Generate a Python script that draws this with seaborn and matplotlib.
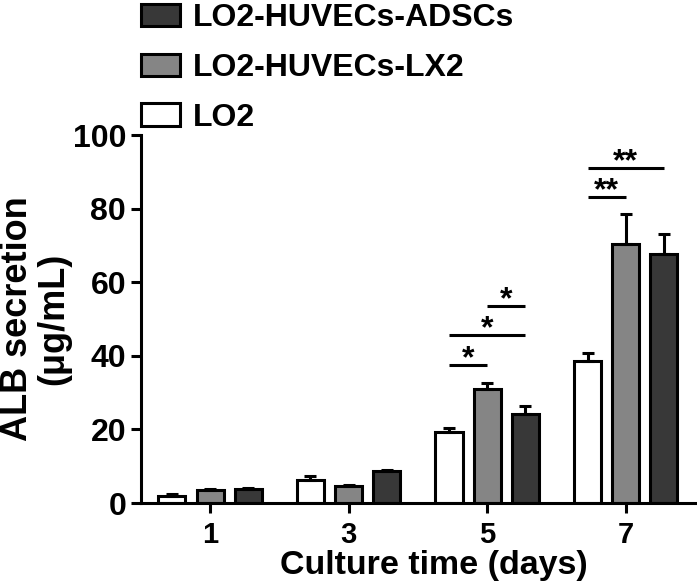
import pandas as pd
import matplotlib.pyplot as plt
import matplotlib.patches as mpatches
import seaborn as sns

# Données
jours = ['1', '3', '5', '7']
groupes = ['LO2', 'LO2-HUVECs-LX2', 'LO2-HUVECs-ADSCs']
lo2 = [2.0, 6.4, 19.4, 38.7]
lo2_err = [0.5, 1.0, 0.9, 2.0]
lx2 = [3.5, 4.7, 31.0, 70.4]
lx2_err = [0.2, 0.2, 1.6, 8.1]
adsc = [3.9, 8.7, 24.2, 67.8]
adsc_err = [0.3, 0.3, 2.3, 5.4]

# comparaisons significatives : (jour, groupe a, groupe b, hauteur, étoiles)
sig_jour = [2, 2, 2, 3, 3]
sig_a = [0, 0, 1, 0, 0]
sig_b = [1, 2, 2, 1, 2]
sig_y = [37.5, 45.6, 53.6, 83.2, 91.1]
sig_txt = ['*', '*', '*', '**', '**']

couleurs = ['white', '#858585', '#383838']

df = pd.DataFrame({
    'jour': jours * 3,
    'groupe': [g for g in groupes for _ in jours],
    'alb': lo2 + lx2 + adsc,
})
erreurs = [lo2_err, lx2_err, adsc_err]

sns.set_style('ticks')
plt.rcParams['font.family'] = ['Liberation Sans', 'DejaVu Sans']
plt.rcParams['font.weight'] = 'bold'
for k in ['text.color', 'axes.labelcolor', 'xtick.color', 'ytick.color', 'axes.edgecolor']:
    plt.rcParams[k] = 'black'

fig = plt.figure(figsize=(6.97, 5.87), dpi=100)
ax = fig.add_axes([0.202, 0.143, 0.795, 0.627])

sns.barplot(data=df, x='jour', y='alb', hue='groupe', order=jours, hue_order=groupes,
            palette=couleurs, edgecolor='black', linewidth=2.2, width=0.825, gap=0.29,
            legend=False, ax=ax)

# barres d'erreur (vers le haut seulement)
centres = []
for cont, err in zip(ax.containers, erreurs):
    xs = []
    for bar, e in zip(cont, err):
        x = bar.get_x() + bar.get_width() / 2
        xs.append(x)
        ax.errorbar(x, bar.get_height(), yerr=[[0], [e]], fmt='none', ecolor='black',
                    elinewidth=2.2, capsize=4.5, capthick=2.2, zorder=1)
    centres.append(xs)

# traits de significativité
for j, a, b, y, t in zip(sig_jour, sig_a, sig_b, sig_y, sig_txt):
    x0, x1 = centres[a][j], centres[b][j]
    ax.plot([x0, x1], [y, y], color='black', lw=2.2, solid_capstyle='butt', clip_on=False)
    ax.text((x0 + x1) / 2, y + 1.6, t, ha='center', va='center', fontsize=23,
            fontweight='bold', clip_on=False)

ax.set_xlim(-0.5, 3.5)
ax.set_ylim(0, 100)
ax.set_yticks([0, 20, 40, 60, 80, 100])
ax.spines['top'].set_visible(False)
ax.spines['right'].set_visible(False)
for s in ['left', 'bottom']:
    ax.spines[s].set_linewidth(2.2)
ax.tick_params(axis='y', labelsize=23, width=2.2, length=7)
ax.tick_params(axis='x', labelsize=21, width=2.2, length=7, pad=6)
for lab in ax.get_xticklabels() + ax.get_yticklabels():
    lab.set_fontweight('bold')

ax.set_xlabel('Culture time (days)', fontsize=24.5, fontweight='bold')
ax.xaxis.set_label_coords(0.529, -0.128)
ax.set_ylabel('ALB secretion\n(μg/mL)', fontsize=26, fontweight='bold', linespacing=1.05)
ax.yaxis.set_label_coords(-0.125, 0.5)

# légende en ordre inverse, au-dessus des axes
poignees = [mpatches.Patch(facecolor=c, edgecolor='black', linewidth=2.2, label=g)
            for c, g in zip(couleurs, groupes)][::-1]
fig.legend(handles=poignees, loc='upper left', bbox_to_anchor=(0.197, 1.0), frameon=False,
           prop={'weight': 'bold', 'size': 23}, borderaxespad=0,
           borderpad=0.1, handlelength=1.25, handleheight=0.7, handletextpad=0.4,
           labelspacing=0.62)

plt.savefig('out.png', dpi=100)
plt.close()
